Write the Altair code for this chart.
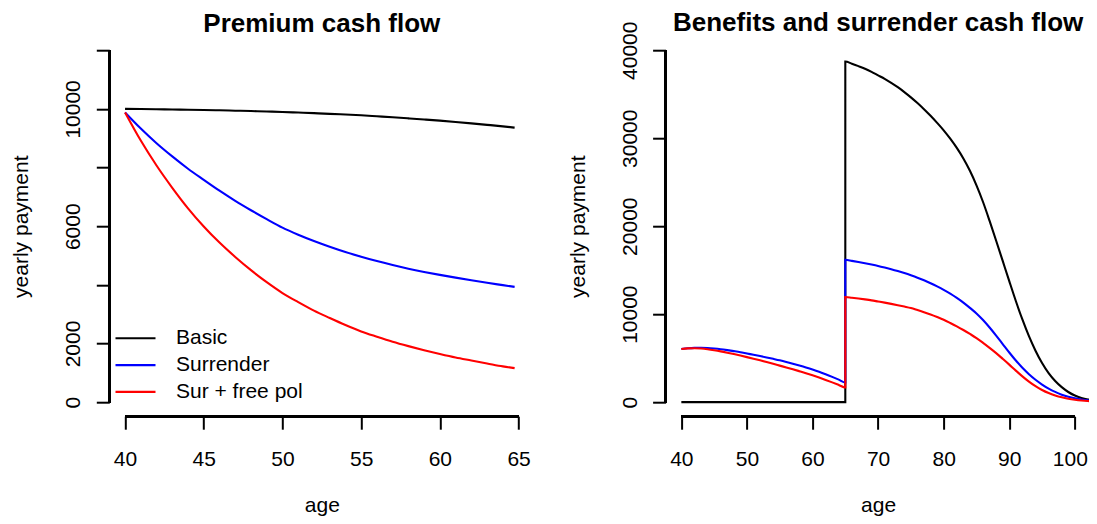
import altair as alt
import pandas as pd

FONT = "Liberation Sans"

# ---------------- data ----------------
series_names = ["Basic", "Surrender", "Sur + free pol"]
series_colors = ["#000000", "#0000FF", "#FF0000"]

# Left panel: premium cash flow
prem_age = [40, 41, 42, 43, 44, 45, 46, 47, 48, 49, 50, 51, 52, 53, 54, 55,
            56, 57, 58, 59, 60, 61, 62, 63, 64, 64.75]
prem_basic = [10000, 9995, 9988, 9980, 9973, 9965, 9953, 9940, 9927, 9912, 9897,
              9876, 9855, 9832, 9808, 9784, 9750, 9715, 9678, 9640, 9600, 9555,
              9507, 9457, 9405, 9361]
prem_surr = [9880, 9330, 8830, 8380, 7960, 7580, 7210, 6865, 6545, 6240, 5950,
             5710, 5495, 5300, 5120, 4960, 4810, 4675, 4550, 4440, 4340, 4245,
             4155, 4070, 3990, 3930]
prem_free = [9880, 8920, 8070, 7310, 6610, 5990, 5440, 4950, 4500, 4090, 3720,
             3410, 3120, 2870, 2630, 2410, 2230, 2060, 1910, 1770, 1640, 1520,
             1420, 1320, 1220, 1160]

# Right panel: benefits and surrender cash flow
ben_age = [40, 41, 42, 43, 44, 45, 46, 47, 48, 49, 50, 51, 52, 53, 54, 55, 56,
           57, 58, 59, 60, 61, 62, 63, 64, 65,
           65, 66, 67, 68, 69, 70, 71, 72, 73, 74, 75, 76, 77, 78, 79, 80, 81,
           82, 83, 84, 85, 86, 87, 88, 89, 90, 91, 92, 93, 94, 95, 96, 97, 98,
           99, 100, 101, 102, 103]
ben_basic = [0, 0, 0, 0, 0, 0, 0, 0, 0, 0, 0, 0, 0, 0, 0, 0, 0, 0, 0, 0, 0, 0,
             0, 0, 0, 0,
             38720, 38480, 38200, 37900, 37550, 37150, 36750, 36300, 35800,
             35250, 34650, 34000, 33300, 32550, 31750, 30900, 29950, 28900,
             27700, 26300, 24650, 22750, 20600, 18350, 16050, 13750, 11500,
             9400, 7500, 5850, 4450, 3300, 2400, 1700, 1150, 750, 480, 300, 180]
ben_surr = [6030, 6120, 6170, 6180, 6150, 6090, 6010, 5910, 5800, 5680, 5530,
            5385, 5235, 5080, 4920, 4755, 4570, 4370, 4160, 3940, 3705, 3450,
            3170, 2870, 2555, 2228,
            16180, 16060, 15930, 15790, 15640, 15480, 15300, 15110, 14900,
            14670, 14420, 14150, 13850, 13520, 13160, 12770, 12340, 11850,
            11320, 10720, 10080, 9330, 8480, 7560, 6600, 5640, 4730, 3900,
            3170, 2540, 2000, 1540, 1160, 850, 610, 430, 300, 200, 130]
ben_free = [6030, 6110, 6130, 6090, 6010, 5900, 5770, 5620, 5460, 5290, 5115,
            4935, 4750, 4555, 4355, 4150, 3945, 3735, 3515, 3290, 3050, 2795,
            2525, 2245, 1955, 1660,
            11950, 11870, 11780, 11680, 11570, 11440, 11310, 11170, 11020,
            10860, 10690, 10460, 10220, 9960, 9670, 9360, 9000, 8620, 8200,
            7750, 7280, 6740, 6170, 5570, 4920, 4260, 3580, 2930, 2330, 1810,
            1380, 1030, 760, 550, 390, 270, 180, 120, 80]

prem_xticks = [40, 45, 50, 55, 60, 65]
prem_yticks = [0, 2000, 4000, 6000, 8000, 10000, 12000]
prem_ylabels = [0, 2000, 6000, 10000]
ben_xticks = [40, 50, 60, 70, 80, 90, 100]
ben_yticks = [0, 10000, 20000, 30000, 40000]


def to_long(ages, cols):
    rows = []
    for name, vals in zip(series_names, cols):
        for i, (a, v) in enumerate(zip(ages, vals)):
            rows.append({"age": a, "value": v, "series": name, "order": i})
    return pd.DataFrame(rows)


prem_df = to_long(prem_age, [prem_basic, prem_surr, prem_free])
ben_df = to_long(ben_age, [ben_basic, ben_surr, ben_free])

W, H = 425, 380


def panel(df, xdom, ydom, xticks, yticks, ylabels, title, legend, title_dy,
          last_label_shift=0):
    label_expr = "indexof(%s, datum.value) >= 0 ? datum.label : ''" % str(ylabels)
    xaxis_kw = dict(values=xticks, title="age", labelPadding=35.9,
                    labelBaseline="alphabetic", titleY=95.3,
                    titleBaseline="alphabetic", format="d")
    if last_label_shift:
        xaxis_kw["labelOffset"] = {
            "condition": {"test": "datum.value == %s" % xticks[-1],
                          "value": last_label_shift},
            "value": 0,
        }
    xenc = alt.X(
        "age:Q",
        scale=alt.Scale(domain=xdom, nice=False, zero=False),
        axis=alt.Axis(**xaxis_kw),
    )
    yenc = alt.Y(
        "value:Q",
        scale=alt.Scale(domain=ydom, nice=False, zero=False),
        axis=alt.Axis(values=yticks, title="yearly payment", format="d",
                      labelAngle=270, labelAlign="center",
                      labelBaseline="alphabetic", labelPadding=16.6,
                      labelExpr=label_expr,
                      titleAngle=270, titleAlign="center",
                      titleBaseline="alphabetic", titleX=-81.5, titleY=H / 2),
    )
    if legend:
        leg = alt.Legend(orient="none", legendX=4.7, legendY=291.6, title=None,
                         symbolType="stroke", symbolSize=1600,
                         symbolStrokeWidth=2.1, clipHeight=21, rowPadding=4.8,
                         labelOffset=19, labelFontSize=21, labelFont=FONT,
                         labelColor="black", padding=0, direction="vertical",
                         symbolOpacity=1, labelLimit=300)
    else:
        leg = None
    color = alt.Color("series:N",
                      scale=alt.Scale(domain=series_names, range=series_colors),
                      legend=leg)
    lines = alt.Chart(df).mark_line(strokeWidth=2.1, clip=True,
                                    interpolate="monotone").encode(
        x=xenc, y=yenc, color=color, order="order:Q"
    )
    xaxis_line = alt.Chart(df).mark_rule(color="black", strokeWidth=2).encode(
        x=alt.datum(xticks[0]), x2=alt.datum(xticks[-1]), y=alt.value(H)
    )
    yaxis_line = alt.Chart(df).mark_rule(color="black", strokeWidth=2).encode(
        y=alt.datum(yticks[0]), y2=alt.datum(yticks[-1]), x=alt.value(0)
    )
    return alt.layer(lines, xaxis_line, yaxis_line).properties(
        width=W, height=H,
        title=alt.TitleParams(text=title, font=FONT, fontSize=26,
                              fontWeight="bold", color="black", anchor="middle",
                              frame="group", offset=3, baseline="alphabetic",
                              dy=title_dy),
    )


left = panel(prem_df, [39, 66], [-480, 12480], prem_xticks, prem_yticks,
             prem_ylabels, "Premium cash flow", True, 24.5)
right = panel(ben_df, [37.6, 102.4], [-1600, 41600], ben_xticks, ben_yticks,
              ben_yticks, "Benefits and surrender cash flow", False, 38.5,
              last_label_shift=-5)

chart = alt.hconcat(left, right, spacing=131.3, bounds="flush").resolve_scale(
    color="independent"
).resolve_legend(color="independent").properties(
    autosize=alt.AutoSizeParams(type="none"),
    padding={"left": 101.3, "top": 28.2, "right": 979.7, "bottom": 479.8},
    background="white",
).configure_view(stroke=None).configure_axis(
    domain=False, grid=False, ticks=True, tickColor="black", tickWidth=2,
    tickSize=13, labelFont=FONT, labelFontSize=21, labelColor="black",
    titleFont=FONT, titleFontSize=21, titleFontWeight="normal",
    titleColor="black", labelFlush=False, labelOverlap=False,
)

chart.save("out.html", embed_options={"renderer": "svg", "actions": False})
